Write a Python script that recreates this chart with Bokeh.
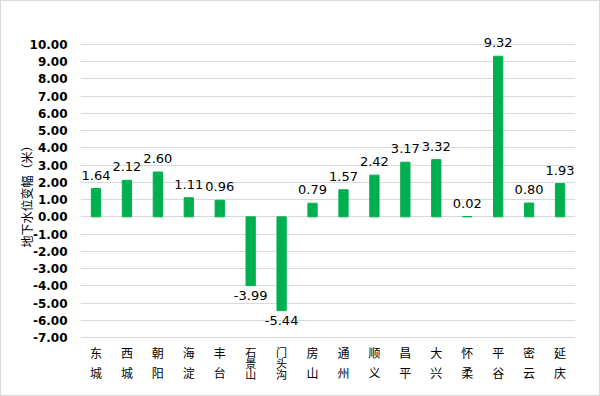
from bokeh.plotting import figure
from bokeh.models import FixedTicker, NumeralTickFormatter, ColumnDataSource, LabelSet, Title
from bokeh.core.properties import value
from bokeh.layouts import column
from bokeh.embed import file_html
from bokeh.resources import INLINE

districts = ["东城", "西城", "朝阳", "海淀", "丰台", "石景山", "门头沟", "房山",
             "通州", "顺义", "昌平", "大兴", "怀柔", "平谷", "密云", "延庆"]
changes = [1.64, 2.12, 2.60, 1.11, 0.96, -3.99, -5.44, 0.79,
           1.57, 2.42, 3.17, 3.32, 0.02, 9.32, 0.80, 1.93]
y_ticks = list(range(-7, 11))
y_label = "地下水位变幅（米）"

src = ColumnDataSource(dict(x=districts, top=changes))

p = figure(x_range=districts, y_range=(-9.785, 12.495), width=598, height=394,
           output_backend="svg", toolbar_location=None,
           min_border_left=79, min_border_right=24, min_border_top=0, min_border_bottom=10)
p.vbar(x="x", top="top", bottom=0, width=0.30, source=src,
       fill_color="#00B050", line_color="#00B050", line_width=1)

pos_src = ColumnDataSource(dict(x=[d for d, v in zip(districts, changes) if v >= 0],
                                y=[v for v in changes if v >= 0],
                                t=["%.2f" % v for v in changes if v >= 0]))
neg_src = ColumnDataSource(dict(x=[d for d, v in zip(districts, changes) if v < 0],
                                y=[v for v in changes if v < 0],
                                t=["%.2f" % v for v in changes if v < 0]))
p.add_layout(LabelSet(x="x", y="y", text="t", source=pos_src, y_offset=9,
                      text_align="center", text_baseline="bottom",
                      text_font=value("DejaVu Sans"), text_font_size="13px", text_color="#000000"))
p.add_layout(LabelSet(x="x", y="y", text="t", source=neg_src, y_offset=-5,
                      text_align="center", text_baseline="top",
                      text_font=value("DejaVu Sans"), text_font_size="13px", text_color="#000000"))

# category labels, written vertically one character per line
def char_source(names, first, step):
    cx, cy, ct, coff = [], [], [], []
    for d in names:
        for i, ch in enumerate(d):
            cx.append(d)
            cy.append(-7)
            ct.append(ch)
            coff.append(-(first - i * step))
    return ColumnDataSource(dict(x=cx, y=cy, t=ct, off=coff))

short_names = [d for d in districts if len(d) <= 2]
long_names = [d for d in districts if len(d) > 2]
for names, first, step, fs in [(short_names, -15, 20, "12px"), (long_names, -14, 11, "11px")]:
    p.text(x="x", y="y", text="t", source=char_source(names, first, step),
           y_offset="off", text_align="center", text_baseline="middle",
           text_font=value("Noto Sans CJK SC"), text_font_size=fs,
           text_color="#000000")

p.outline_line_color = None
p.xgrid.grid_line_color = None
p.ygrid.grid_line_color = "#d9d9d9"
p.ygrid.ticker = FixedTicker(ticks=y_ticks)

p.yaxis.ticker = FixedTicker(ticks=y_ticks)
p.yaxis.formatter = NumeralTickFormatter(format="0.00")
p.yaxis.axis_line_color = None
p.yaxis.major_tick_line_color = None
p.yaxis.minor_tick_line_color = None
p.yaxis.major_label_text_font = "DejaVu Sans"
p.yaxis.major_label_text_font_style = "bold"
p.yaxis.major_label_text_font_size = "12px"
p.yaxis.major_label_text_color = "#000000"
p.yaxis.major_label_standoff = 7

p.add_layout(Title(text=y_label, align="center", offset=8,
                   text_font="Noto Sans CJK SC", text_font_style="normal",
                   text_font_size="12px", text_color="#000000", standoff=-17), "left")

p.xaxis.visible = False

layout = column(p, styles={"border": "1px solid #d9d9d9"})
open("out.html", "w").write(file_html(layout, INLINE))
